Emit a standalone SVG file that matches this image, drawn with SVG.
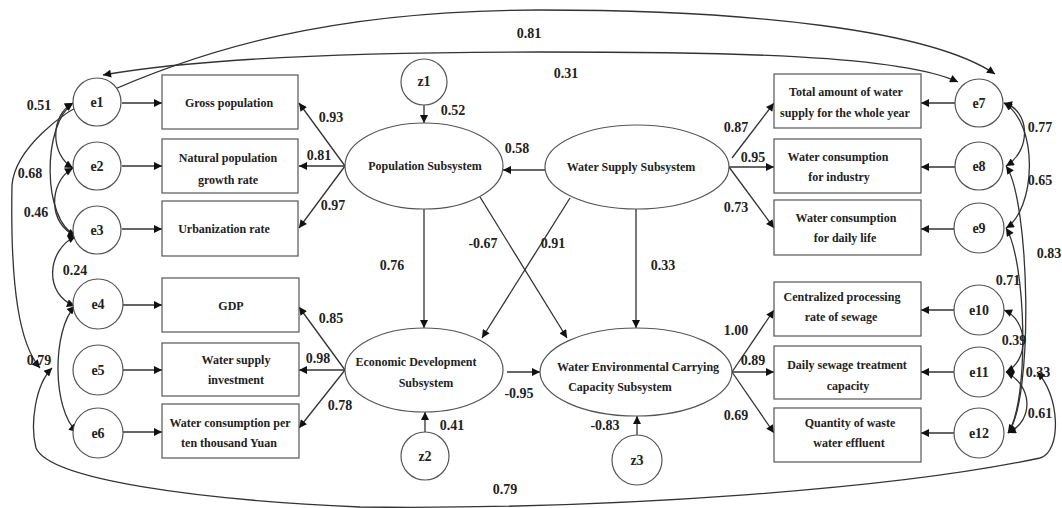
<svg xmlns="http://www.w3.org/2000/svg" width="1062" height="508" viewBox="0 0 1062 508">
<style>
.bg{fill:#fff}
.n{fill:#fff;stroke:#555;stroke-width:1.2}
.c{fill:none;stroke:#333;stroke-width:1.3}
.t{font-family:"Liberation Serif","Times New Roman",serif;font-weight:bold;fill:#222;text-anchor:middle}
.s12{font-size:12px}
.s14{font-size:14px}
</style>
<defs>
<marker id="ah" viewBox="0 0 10 10" refX="10" refY="5" markerUnits="userSpaceOnUse" markerWidth="9" markerHeight="8" orient="auto-start-reverse">
<path d="M0,0 L10,5 L0,10 z" fill="#111"/>
</marker>
</defs>
<rect class="bg" x="0" y="0" width="1062" height="508"/>

<g id="connectors">
<!-- e -> boxes left -->
<line class="c" x1="122" y1="103" x2="162" y2="103" marker-end="url(#ah)"/>
<line class="c" x1="122" y1="166" x2="162" y2="166" marker-end="url(#ah)"/>
<line class="c" x1="122" y1="229" x2="162" y2="229" marker-end="url(#ah)"/>
<line class="c" x1="123" y1="305" x2="162" y2="305" marker-end="url(#ah)"/>
<line class="c" x1="123" y1="370" x2="162" y2="370" marker-end="url(#ah)"/>
<line class="c" x1="123" y1="432" x2="162" y2="432" marker-end="url(#ah)"/>
<!-- e -> boxes right -->
<line class="c" x1="955" y1="103" x2="921" y2="103" marker-end="url(#ah)"/>
<line class="c" x1="955" y1="167" x2="921" y2="167" marker-end="url(#ah)"/>
<line class="c" x1="955" y1="229" x2="921" y2="229" marker-end="url(#ah)"/>
<line class="c" x1="955" y1="310" x2="921" y2="310" marker-end="url(#ah)"/>
<line class="c" x1="955" y1="372" x2="921" y2="372" marker-end="url(#ah)"/>
<line class="c" x1="955" y1="433" x2="921" y2="433" marker-end="url(#ah)"/>
<!-- latent -> indicators -->
<line class="c" x1="345" y1="166" x2="299" y2="103" marker-end="url(#ah)"/>
<line class="c" x1="345" y1="166" x2="299" y2="166" marker-end="url(#ah)"/>
<line class="c" x1="345" y1="166" x2="299" y2="228" marker-end="url(#ah)"/>
<line class="c" x1="345" y1="370" x2="299" y2="307" marker-end="url(#ah)"/>
<line class="c" x1="345" y1="370" x2="299" y2="370" marker-end="url(#ah)"/>
<line class="c" x1="345" y1="370" x2="299" y2="428" marker-end="url(#ah)"/>
<line class="c" x1="732" y1="158" x2="774" y2="103" marker-end="url(#ah)"/>
<line class="c" x1="729" y1="167" x2="774" y2="167" marker-end="url(#ah)"/>
<line class="c" x1="729" y1="167" x2="774" y2="228" marker-end="url(#ah)"/>
<line class="c" x1="732" y1="372" x2="774" y2="310" marker-end="url(#ah)"/>
<line class="c" x1="732" y1="372" x2="774" y2="372" marker-end="url(#ah)"/>
<line class="c" x1="732" y1="372" x2="774" y2="433" marker-end="url(#ah)"/>
<!-- disturbances -->
<line class="c" x1="424" y1="105" x2="424" y2="123" marker-end="url(#ah)"/>
<line class="c" x1="425" y1="432" x2="425" y2="412" marker-end="url(#ah)"/>
<line class="c" x1="637" y1="435" x2="637" y2="416" marker-end="url(#ah)"/>
<!-- structural -->
<line class="c" x1="545" y1="170" x2="503" y2="170" marker-end="url(#ah)"/>
<line class="c" x1="424" y1="209" x2="424" y2="328" marker-end="url(#ah)"/>
<line class="c" x1="636" y1="209" x2="636" y2="328" marker-end="url(#ah)"/>
<line class="c" x1="480" y1="197" x2="567" y2="338" marker-end="url(#ah)"/>
<line class="c" x1="570" y1="198" x2="482" y2="338" marker-end="url(#ah)"/>
<line class="c" x1="507" y1="372" x2="540" y2="372" marker-end="url(#ah)"/>
<!-- left covariances -->
<path class="c" d="M73 103 C50 115,50 155,73 168" marker-start="url(#ah)" marker-end="url(#ah)"/>
<path class="c" d="M73 103 C42 125,42 220,76 236" marker-start="url(#ah)" marker-end="url(#ah)"/>
<path class="c" d="M73 168 C48 182,48 225,76 236" marker-start="url(#ah)" marker-end="url(#ah)"/>
<path class="c" d="M76 236 C46 250,44 295,75 306" marker-start="url(#ah)" marker-end="url(#ah)"/>
<path class="c" d="M75 306 C52 330,52 410,77 432" marker-start="url(#ah)" marker-end="url(#ah)"/>
<!-- right covariances -->
<path class="c" d="M1004 103 C1030 110,1032 150,1006 166" marker-start="url(#ah)" marker-end="url(#ah)"/>
<path class="c" d="M1004 103 C1040 125,1035 210,1006 228" marker-start="url(#ah)" marker-end="url(#ah)"/>
<path class="c" d="M1006 166 C1030 200,1034 400,1008 433" marker-start="url(#ah)" marker-end="url(#ah)"/>
<path class="c" d="M1006 228 C1026 260,1030 400,1008 433" marker-start="url(#ah)" marker-end="url(#ah)"/>
<path class="c" d="M1004 310 C1028 320,1030 360,1006 372" marker-start="url(#ah)" marker-end="url(#ah)"/>
<path class="c" d="M1006 372 C1032 385,1035 420,1008 433" marker-start="url(#ah)" marker-end="url(#ah)"/>
<!-- long arcs -->
<path class="c" d="M995 74 C930 30,750 10,540 10 C330 10,200 50,97 97 C60 112,15 150,12 185 C10 290,20 345,40 368" marker-start="url(#ah)" marker-end="url(#ah)"/>
<path class="c" d="M103 75 C200 58,350 52,540 52 C730 52,900 55,958 82" marker-start="url(#ah)" marker-end="url(#ah)"/>
<path class="c" d="M52 368 C35 385,30 425,36 448 C50 480,200 500,360 507 C620 510,900 488,1040 458 C1062 452,1060 395,1037 372" marker-start="url(#ah)" marker-end="url(#ah)"/>
</g>

<g id="e1"><circle class="n" cx="97" cy="102" r="24"/><text class="t s14" x="97" y="107">e1</text></g>
<g id="e2"><circle class="n" cx="97" cy="166" r="24"/><text class="t s14" x="97" y="171">e2</text></g>
<g id="e3"><circle class="n" cx="97" cy="230" r="24"/><text class="t s14" x="97" y="235">e3</text></g>
<g id="e4"><circle class="n" cx="98" cy="304" r="25"/><text class="t s14" x="98" y="309">e4</text></g>
<g id="e5"><circle class="n" cx="98" cy="370" r="25"/><text class="t s14" x="98" y="375">e5</text></g>
<g id="e6"><circle class="n" cx="98" cy="433" r="25"/><text class="t s14" x="98" y="438">e6</text></g>
<g id="e7"><circle class="n" cx="979" cy="103" r="24"/><text class="t s14" x="979" y="108">e7</text></g>
<g id="e8"><circle class="n" cx="979" cy="166" r="24"/><text class="t s14" x="979" y="171">e8</text></g>
<g id="e9"><circle class="n" cx="979" cy="228" r="25"/><text class="t s14" x="979" y="233">e9</text></g>
<g id="e10"><circle class="n" cx="979" cy="310" r="25"/><text class="t s14" x="979" y="315">e10</text></g>
<g id="e11"><circle class="n" cx="979" cy="372" r="25"/><text class="t s14" x="979" y="377">e11</text></g>
<g id="e12"><circle class="n" cx="979" cy="433" r="25"/><text class="t s14" x="979" y="438">e12</text></g>

<g id="z1"><circle class="n" cx="424" cy="82" r="23"/><text class="t s14" x="424" y="86">z1</text></g>
<g id="z2"><circle class="n" cx="425" cy="456" r="24"/><text class="t s14" x="425" y="461">z2</text></g>
<g id="z3"><circle class="n" cx="637" cy="460" r="25"/><text class="t s14" x="637" y="465">z3</text></g>

<g id="box1"><rect class="n" x="162" y="75" width="136" height="54"/><text class="t s12" x="229" y="107">Gross population</text></g>
<g id="box2"><rect class="n" x="162" y="139" width="136" height="54"/><text class="t s12" x="228" y="162">Natural population</text><text class="t s12" x="228" y="184">growth rate</text></g>
<g id="box3"><rect class="n" x="162" y="201" width="136" height="55"/><text class="t s12" x="224" y="233">Urbanization rate</text></g>
<g id="box4"><rect class="n" x="162" y="278" width="137" height="54"/><text class="t s12" x="231" y="310">GDP</text></g>
<g id="box5"><rect class="n" x="162" y="343" width="137" height="53"/><text class="t s12" x="236" y="364">Water supply</text><text class="t s12" x="236" y="384">investment</text></g>
<g id="box6"><rect class="n" x="162" y="404" width="137" height="54"/><text class="t s12" x="230" y="427">Water consumption per</text><text class="t s12" x="229" y="447">ten thousand Yuan</text></g>
<g id="box7"><rect class="n" x="774" y="74" width="147" height="54"/><text class="t s12" x="846" y="96">Total amount of water</text><text class="t s12" x="845" y="117">supply for the whole year</text></g>
<g id="box8"><rect class="n" x="774" y="139" width="147" height="54"/><text class="t s12" x="838" y="161">Water consumption</text><text class="t s12" x="839" y="181">for industry</text></g>
<g id="box9"><rect class="n" x="774" y="200" width="147" height="55"/><text class="t s12" x="846" y="222">Water consumption</text><text class="t s12" x="845" y="242">for daily life</text></g>
<g id="box10"><rect class="n" x="774" y="282" width="147" height="54"/><text class="t s12" x="842" y="301">Centralized processing</text><text class="t s12" x="841" y="321">rate of sewage</text></g>
<g id="box11"><rect class="n" x="774" y="346" width="147" height="53"/><text class="t s12" x="847" y="369">Daily sewage treatment</text><text class="t s12" x="848" y="390">capacity</text></g>
<g id="box12"><rect class="n" x="774" y="408" width="147" height="54"/><text class="t s12" x="850" y="427">Quantity of waste</text><text class="t s12" x="849" y="447">water effluent</text></g>

<g id="population"><ellipse class="n" cx="424" cy="166" rx="79" ry="43"/><text class="t s12" x="425" y="170">Population Subsystem</text></g>
<g id="watersupply"><ellipse class="n" cx="637" cy="167" rx="92" ry="42"/><text class="t s12" x="631" y="171">Water Supply Subsystem</text></g>
<g id="economic"><ellipse class="n" cx="424" cy="370" rx="79" ry="42"/><text class="t s12" x="416" y="366">Economic Development</text><text class="t s12" x="426" y="387">Subsystem</text></g>
<g id="wecc"><ellipse class="n" cx="636" cy="372" rx="96" ry="44"/><text class="t s12" x="638" y="371">Water Environmental Carrying</text><text class="t s12" x="620" y="391">Capacity Subsystem</text></g>

<g id="labels" class="t s14">
<text x="529" y="38">0.81</text>
<text x="566" y="78">0.31</text>
<text x="39" y="110">0.51</text>
<text x="30" y="178">0.68</text>
<text x="36" y="217">0.46</text>
<text x="75" y="275">0.24</text>
<text x="39" y="365">0.79</text>
<text x="453" y="115">0.52</text>
<text x="331" y="122">0.93</text>
<text x="319" y="160">0.81</text>
<text x="333" y="210">0.97</text>
<text x="517" y="153">0.58</text>
<text x="392" y="270">0.76</text>
<text x="483" y="248">-0.67</text>
<text x="553" y="248">0.91</text>
<text x="663" y="270">0.33</text>
<text x="331" y="323">0.85</text>
<text x="318" y="363">0.98</text>
<text x="340" y="410">0.78</text>
<text x="452" y="430">0.41</text>
<text x="519" y="398">-0.95</text>
<text x="605" y="430">-0.83</text>
<text x="505" y="494">0.79</text>
<text x="736" y="132">0.87</text>
<text x="753" y="162">0.95</text>
<text x="736" y="212">0.73</text>
<text x="736" y="335">1.00</text>
<text x="753" y="365">0.89</text>
<text x="736" y="420">0.69</text>
<text x="1040" y="132">0.77</text>
<text x="1040" y="185">0.65</text>
<text x="1049" y="258">0.83</text>
<text x="1008" y="285">0.71</text>
<text x="1014" y="345">0.39</text>
<text x="1038" y="377">0.33</text>
<text x="1040" y="418">0.61</text>
</g>
</svg>
